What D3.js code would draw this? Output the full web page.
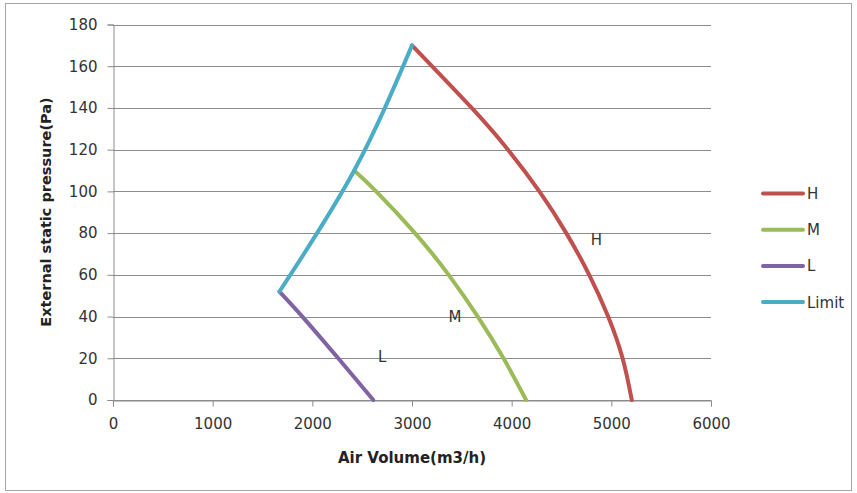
<!DOCTYPE html>
<html><head><meta charset="utf-8">
<script src="https://cdn.jsdelivr.net/npm/d3@7"></script>
<style>body{margin:0;background:#fff}svg{display:block}</style>
</head><body><svg id="c" width="857" height="493"></svg>
<script>
const seriesNames = ["H","M","L","Limit"];
const seriesColors = ["#C0504D","#9BBB59","#8064A2","#4BACC6"];
const hX = [3000,3599,3963,4278,4548,4778,4968,5113,5205];
const hY = [170,140,120,100,80,60,40,20,0];
const mX = [2420,2640,3030,3368,3660,3918,4145];
const mY = [110,100,80,60,40,20,0];
const lX = [1670,1900,2260,2612];
const lY = [52,40,20,0];
const limitX = [1670,2420,3000];
const limitY = [52,110,170];
const xTicks = [0,1000,2000,3000,4000,5000,6000];
const yTicks = [0,20,40,60,80,100,120,140,160,180];
const curveLabels = [{t:"H",x:4850,y:77},{t:"M",x:3430,y:40},{t:"L",x:2700,y:20.5}];

const svg = d3.select("#c");
const font = "'DejaVu Sans', Verdana, sans-serif";
svg.append("rect").attr("x",5.5).attr("y",3.5).attr("width",846).attr("height",487)
  .attr("fill","#fff").attr("stroke","#a6a6a6");

const x = d3.scaleLinear().domain([0,6000]).range([113,711]);
const y = d3.scaleLinear().domain([0,180]).range([400,24.5]);

// gridlines
svg.append("g").selectAll("line").data(yTicks).join("line")
  .attr("x1",x(0)).attr("x2",x(6000))
  .attr("y1",d=>Math.round(y(d))+0.5).attr("y2",d=>Math.round(y(d))+0.5)
  .attr("stroke","#8c8c8c").attr("stroke-width",1);

// y axis
const yAxis = svg.append("g").attr("transform",`translate(${x(0)+0.5},0)`)
  .call(d3.axisLeft(y).tickValues(yTicks).tickSize(6).tickPadding(10));
yAxis.select(".domain").attr("stroke","#8c8c8c");
yAxis.selectAll(".tick line").attr("stroke","#8c8c8c");
yAxis.selectAll(".tick text").attr("font-family",font).attr("font-size",15).attr("fill","#333");

// x axis
const xAxis = svg.append("g").attr("transform",`translate(0,${Math.round(y(0))+0.5})`)
  .call(d3.axisBottom(x).tickValues(xTicks).tickSize(6).tickPadding(12).tickFormat(d3.format("d")));
xAxis.select(".domain").attr("stroke","#8c8c8c");
xAxis.selectAll(".tick line").attr("stroke","#8c8c8c");
xAxis.selectAll(".tick text").attr("font-family",font).attr("font-size",15).attr("fill","#333");

// series
const data = [
  d3.zip(hX,hY), d3.zip(mX,mY), d3.zip(lX,lY), d3.zip(limitX,limitY)
];
const line = d3.line().x(d=>x(d[0])).y(d=>y(d[1])).curve(d3.curveNatural);
svg.append("g").selectAll("path").data(data).join("path")
  .attr("d",line).attr("fill","none")
  .attr("stroke",(d,i)=>seriesColors[i]).attr("stroke-width",4)
  .attr("stroke-linejoin","round").attr("stroke-linecap","round");

// curve labels
svg.append("g").selectAll("text").data(curveLabels).join("text")
  .attr("x",d=>x(d.x)).attr("y",d=>y(d.y)).attr("text-anchor","middle").attr("dy","0.35em")
  .attr("font-family",font).attr("font-size",15).attr("fill","#333").text(d=>d.t);

// axis titles
svg.append("text").attr("x",412).attr("y",463).attr("text-anchor","middle")
  .attr("font-family",font).attr("font-weight","bold").attr("font-size",15).attr("fill","#222")
  .text("Air Volume(m3/h)");
svg.append("text").attr("transform","translate(51,212) rotate(-90)").attr("text-anchor","middle")
  .attr("font-family",font).attr("font-weight","bold").attr("font-size",14.5).attr("fill","#222")
  .text("External static pressure(Pa)");

// legend
const lg = svg.append("g").selectAll("g").data(seriesNames).join("g")
  .attr("transform",(d,i)=>`translate(763,${193.5+i*36.2})`);
lg.append("line").attr("x1",0).attr("x2",40).attr("stroke",(d,i)=>seriesColors[i])
  .attr("stroke-width",4).attr("stroke-linecap","round");
lg.append("text").attr("x",44).attr("dy","0.36em").attr("font-family",font).attr("font-size",15)
  .attr("fill","#333").text(d=>d);
</script></body></html>
